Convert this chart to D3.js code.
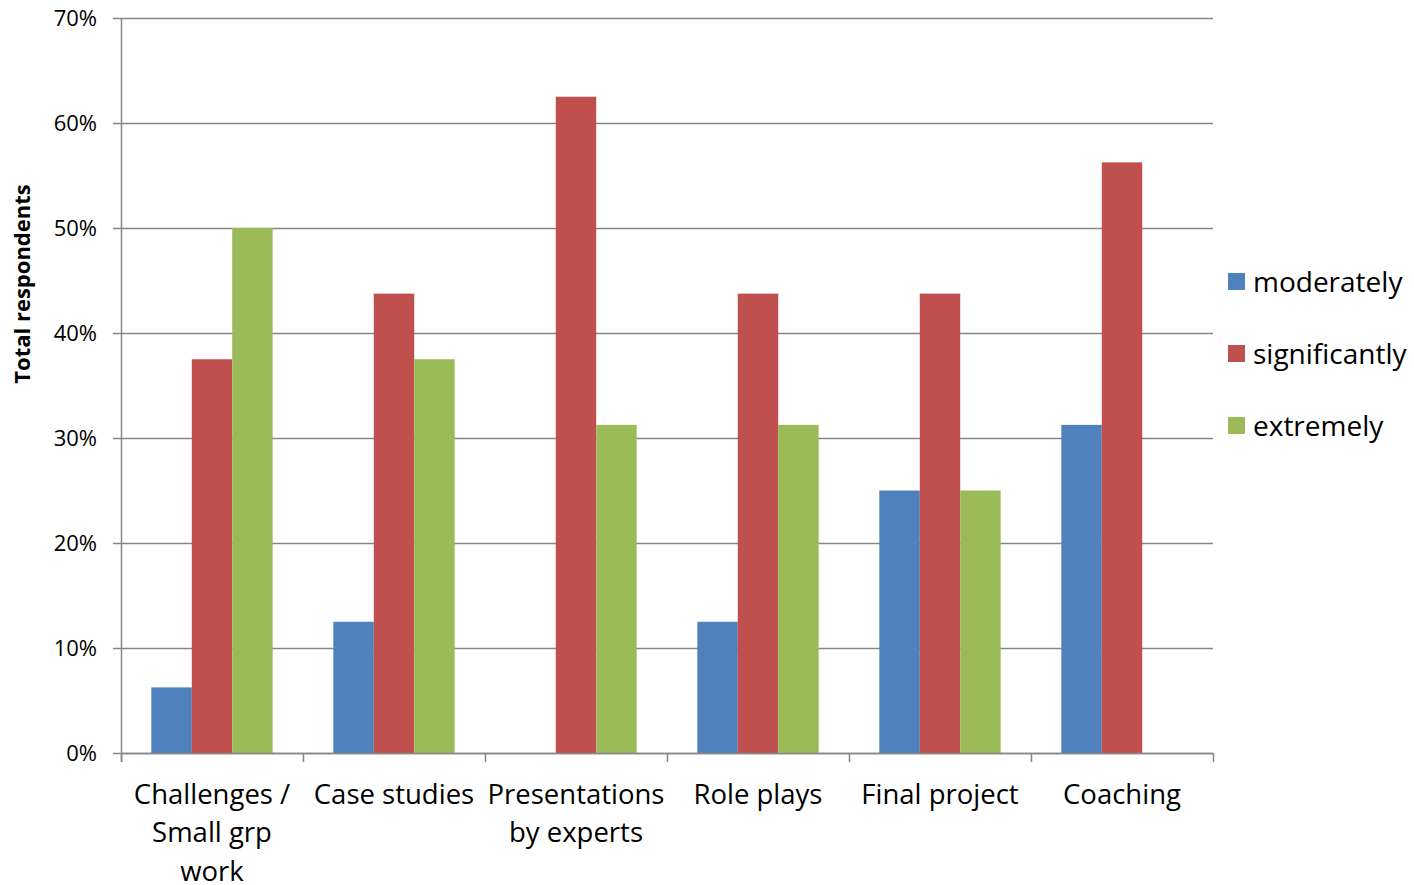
<!DOCTYPE html>
<html><head><meta charset="utf-8">
<script src="https://cdn.jsdelivr.net/npm/d3@7"></script>
<style>body{margin:0;background:#fff}svg{display:block}</style>
</head><body>
<svg id="c" width="1414" height="885"></svg>
<script>
const categories = [["Challenges /","Small grp","work"],["Case studies"],["Presentations","by experts"],["Role plays"],["Final project"],["Coaching"]];
const seriesNames = ["moderately","significantly","extremely"];
const moderately   = [6.25, 12.5, 0, 12.5, 25, 31.25];
const significantly = [37.5, 43.75, 62.5, 43.75, 43.75, 56.25];
const extremely    = [50, 37.5, 31.25, 31.25, 25, 0];
const yTicks = [0,10,20,30,40,50,60,70];
const colors = ["#4F81BD","#C0504D","#9BBB59"];
const seriesValues = [moderately, significantly, extremely];

const svg = d3.select("#c");
const font = "'Open Sans', 'DejaVu Sans', sans-serif";
const L=121, R=1213, T=18, B=753;
const x0 = d3.scaleBand().domain(d3.range(categories.length)).range([L,R]).paddingInner(0).paddingOuter(0);
const y = d3.scaleLinear().domain([0,70]).range([B,T]);
const cw = x0.bandwidth();
const bw = cw/(3+1.5);
const x1 = d3.scaleBand().domain(d3.range(3)).range([0,3*bw]);

// gridlines
svg.append("g").selectAll("line").data(yTicks).join("line")
  .attr("x1",L-8).attr("x2",R).attr("y1",d=>y(d)+0.5).attr("y2",d=>y(d)+0.5)
  .attr("stroke","#868686").attr("stroke-width",1.5);

// bars
const g = svg.append("g");
seriesValues.forEach((vals,si)=>{
  g.selectAll(".s"+si).data(vals).join("rect")
    .attr("x",(d,i)=>x0(i)+(cw-3*bw)/2+x1(si))
    .attr("width",bw)
    .attr("y",d=>y(d))
    .attr("height",d=>B-y(d))
    .attr("fill",colors[si]);
});

// axes lines
svg.append("line").attr("x1",L+0.5).attr("x2",L+0.5).attr("y1",T).attr("y2",B+9).attr("stroke","#868686").attr("stroke-width",1.5);
svg.append("line").attr("x1",L).attr("x2",R).attr("y1",B+0.5).attr("y2",B+0.5).attr("stroke","#868686").attr("stroke-width",1.5);
svg.append("g").selectAll("line").data(d3.range(categories.length+1)).join("line")
  .attr("x1",i=>L+i*cw+0.5).attr("x2",i=>L+i*cw+0.5).attr("y1",B).attr("y2",B+9)
  .attr("stroke","#868686").attr("stroke-width",1.5);

// y tick labels
svg.append("g").selectAll("text").data(yTicks).join("text")
  .attr("x",97).attr("y",d=>y(d)).attr("dy","0.36em").attr("text-anchor","end")
  .attr("font-family",font).attr("font-size",22).attr("fill","#000").text(d=>d+"%");

// y title
svg.append("text").attr("transform","translate(30,284) rotate(-90)").attr("text-anchor","middle")
  .attr("font-family",font).attr("font-size",22).attr("font-weight","bold").text("Total respondents");

// x labels
const xl = svg.append("g").selectAll("text").data(categories).join("text")
  .attr("text-anchor","middle").attr("font-family",font).attr("font-size",27.5);
xl.each(function(lines,i){
  d3.select(this).selectAll("tspan").data(lines).join("tspan")
    .attr("x",x0(i)+cw/2).attr("y",(d,j)=>794+j*38.5).attr("dy","0.36em").text(d=>d);
});

// legend
const lg = svg.append("g").selectAll("g").data(seriesNames).join("g")
  .attr("transform",(d,i)=>`translate(1228,${282+i*72})`);
lg.append("rect").attr("x",0).attr("y",-9).attr("width",17).attr("height",17).attr("fill",(d,i)=>colors[i]);
lg.append("text").attr("x",25).attr("y",0).attr("dy","0.36em").attr("font-family",font).attr("font-size",28).text(d=>d);
</script>
</body></html>
